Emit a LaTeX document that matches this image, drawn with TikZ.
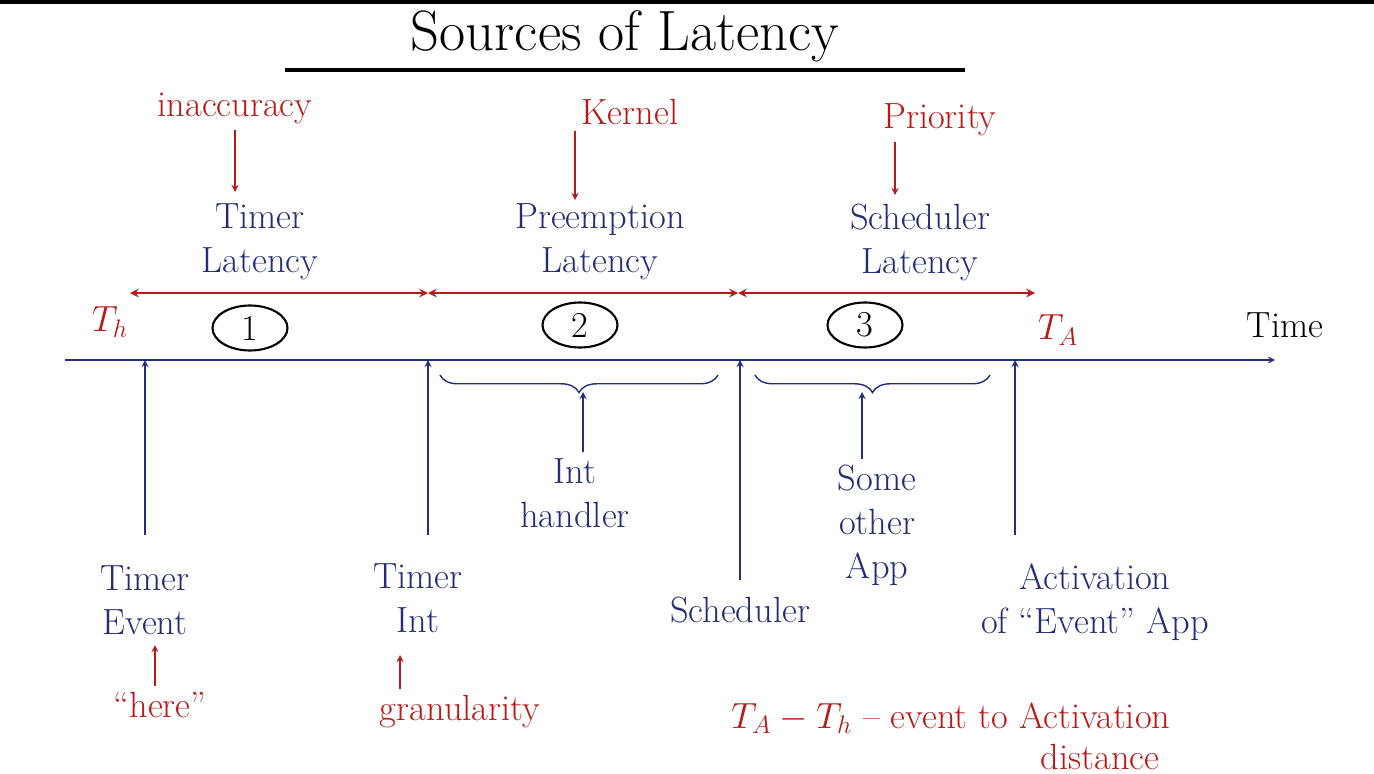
\documentclass[tikz,border=0pt]{standalone}
\usepackage{tikz}
\usetikzlibrary{arrows,decorations.pathreplacing}
\usetikzlibrary{shapes.geometric}
\definecolor{ink}{RGB}{35,45,120}
\definecolor{pen}{RGB}{185,25,25}
\tikzstyle{blue}=[text=ink, font=\huge, align=center]
\tikzstyle{red}=[text=pen, font=\huge, align=center]
\tikzstyle{up}=[->, >=stealth, draw=ink, thick]
\tikzstyle{down}=[->, >=stealth, draw=pen, thick]
\tikzstyle{span}=[<->, >=stealth, draw=pen, very thick]
\tikzstyle{num}=[ellipse, draw=black, very thick, font=\huge, minimum width=1.5cm, minimum height=0.9cm, inner sep=0pt]
\begin{document}
\begin{tikzpicture}[x=0.02cm, y=-0.02cm]
	\useasboundingbox (0,0) rectangle (1374,774);
	\fill[black] (0,0) rectangle (1374,4);
	%The title
	\node[font=\Huge, scale=1.3] (title) at (625,36) {Sources of Latency};
	\draw[line width=2pt] (285,70) -- (965,70);

	%The sources
	\node[red] (inacc) at (235,108) {inaccuracy};
	\node[red] (kern) at (630,112) {Kernel};
	\node[red] (prio) at (940,120) {Priority};
	\coordinate (t1) at (235,192);
	\coordinate (t2) at (575,200);
	\coordinate (t3) at (895,195);
	\draw[down] (inacc) -- (t1);
	\draw[down] (kern.south -| t2) -- (t2);
	\draw[down] (prio.south -| t3) -- (t3);

	%The latencies
	\node[blue] (timerlat) at (260,242) {Timer\\Latency};
	\node[blue] (preemlat) at (600,242) {Preemption\\Latency};
	\node[blue] (schedlat) at (920,242) {Scheduler\\Latency};
	\coordinate (r0) at (130,293);
	\coordinate (r1) at (428,293);
	\coordinate (r2) at (738,293);
	\coordinate (r3) at (1035,293);
	\draw[span] (r0) -- (r1);
	\draw[span] (r1) -- (r2);
	\draw[span] (r2) -- (r3);
	\node[red] (th) at (110,322) {$T_h$};
	\node[red] (ta) at (1058,330) {$T_A$};
	\node[num] (n1) at (250,328) {1};
	\node[num] (n2) at (580,325) {2};
	\node[num] (n3) at (865,325) {3};

	%The time axis
	\coordinate (a0) at (65,360);
	\coordinate (a1) at (1275,360);
	\draw[->, >=stealth, draw=ink, thick] (a0) -- (a1);
	\node[font=\huge] (time) at (1285,325) {Time};

	%The events
	\node[blue] (tevent) at (145,600) {Timer\\Event};
	\node[blue] (tint) at (418,598) {Timer\\Int};
	\node[blue] (sched) at (740,610) {Scheduler};
	\node[blue] (activ) at (1095,602) {Activation\\of ``Event'' App};
	\draw[up] (145,535) -- (145,360);
	\draw[up] (428,535) -- (428,360);
	\draw[up] (740,580) -- (740,360);
	\draw[up] (1015,535) -- (1015,360);

	%The braces
	\draw[ink, thick, decorate, decoration={brace, mirror, amplitude=10pt}] (440,375) -- (718,375);
	\draw[ink, thick, decorate, decoration={brace, mirror, amplitude=10pt}] (755,375) -- (990,375);
	\node[blue] (inth) at (575,493) {Int\\handler};
	\node[blue] (other) at (877,525) {Some\\other\\App};
	\draw[up] (inth.north -| 583,0) -- (583,392);
	\draw[up] (other.north -| 862,0) -- (862,392);

	%The reasons
	\node[red] (here) at (160,705) {``here''};
	\node[red] (gran) at (460,712) {granularity};
	\draw[down, <-] (155,645) -- (here.north -| 155,0);
	\draw[down, <-] (400,655) -- (gran.north -| 400,0);
	\node[red, anchor=west] (dist) at (725,718) {$T_A - T_h$ -- event to Activation};
	\node[red] (dist2) at (1100,757) {distance};
\end{tikzpicture}
\end{document}
